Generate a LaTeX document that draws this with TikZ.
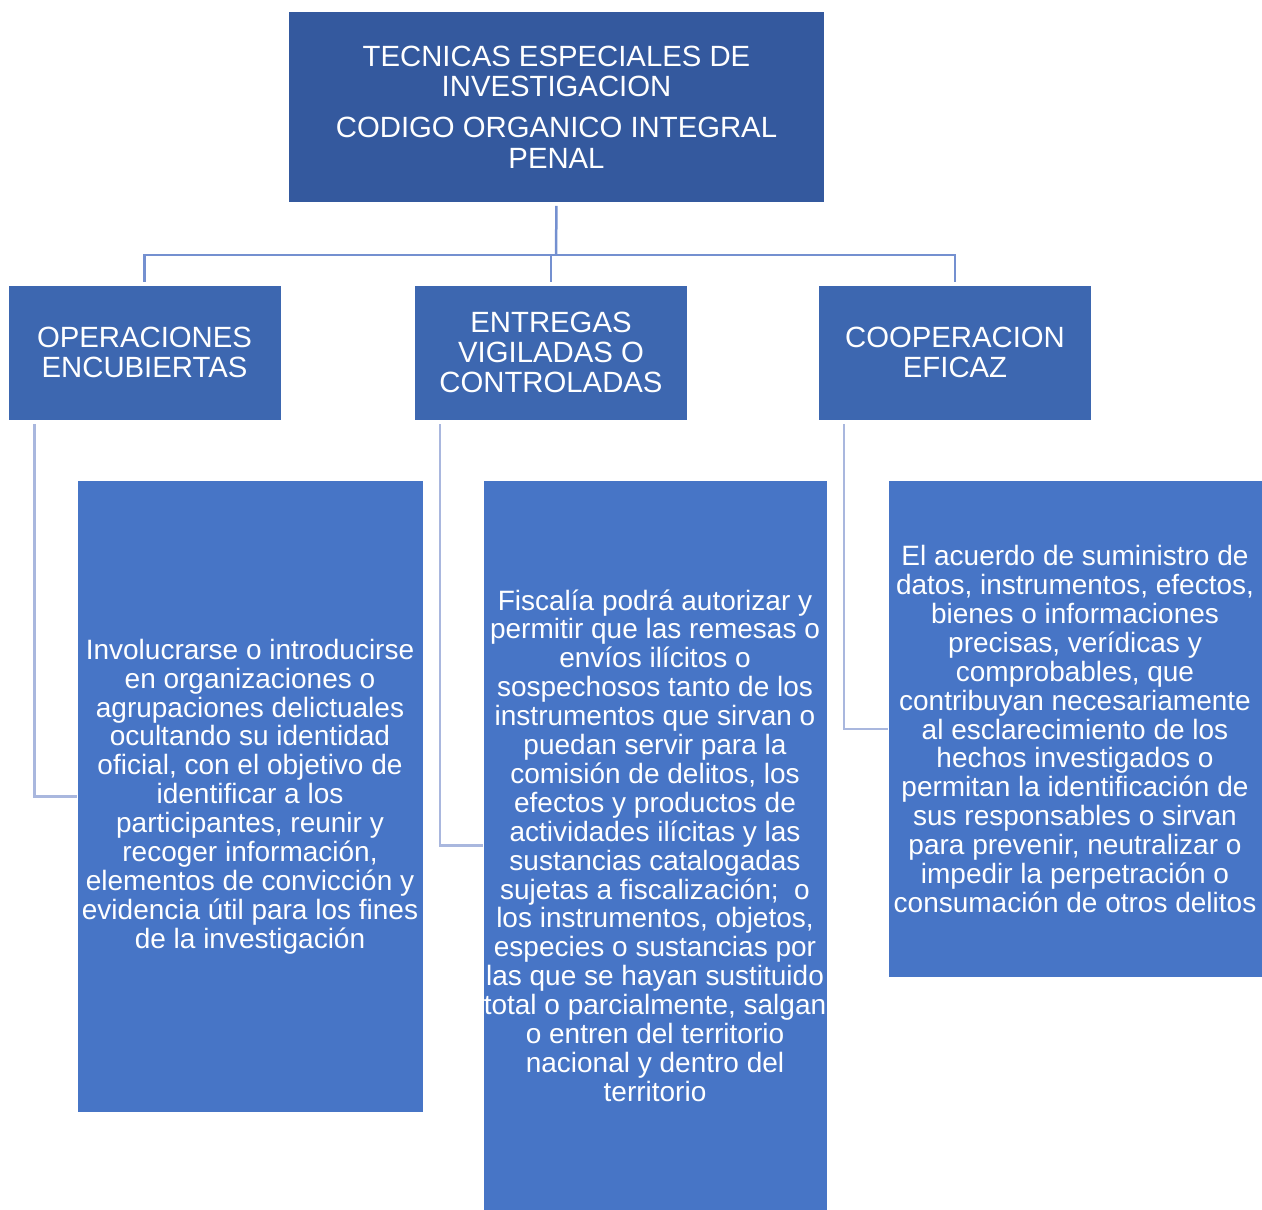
\documentclass[tikz,border=0pt]{standalone}
\usepackage{fontspec}
\setmainfont{Liberation Sans}
\definecolor{topc}{HTML}{34599E}
\definecolor{midc}{HTML}{3D67B0}
\definecolor{lowc}{HTML}{4775C6}
\definecolor{connc}{HTML}{7490D0}
\definecolor{brac}{HTML}{A9B7DE}
\begin{document}
\begin{tikzpicture}[x=1pt,y=-1pt,
  box/.style={rectangle, draw=white, line width=0.6pt, text=white, align=center, inner sep=0pt,
    font=\fontsize{28}{28.9}\selectfont},
  head/.style={box, font=\fontsize{29.3}{30.2}\selectfont},
  conn/.style={draw=connc, line width=2.5pt},
  brack/.style={draw=brac, line width=2.5pt}]
\useasboundingbox (0,0) rectangle (1262,1210);
\node[head, fill=topc, minimum width=536, minimum height=191] (top) at (556.5,107)
  {TECNICAS ESPECIALES DE\\INVESTIGACION\\[11pt]CODIGO ORGANICO INTEGRAL\\PENAL};
\node[head, fill=midc, minimum width=273, minimum height=135] (a) at (144.5,352.5)
  {OPERACIONES\\ENCUBIERTAS};
\node[head, fill=midc, minimum width=273, minimum height=135] (b) at (551,352.5)
  {ENTREGAS\\VIGILADAS O\\CONTROLADAS};
\node[head, fill=midc, minimum width=273, minimum height=135] (c) at (955,352.5)
  {COOPERACION\\EFICAZ};
\node[box, fill=lowc, minimum width=346, minimum height=632] (d) at (250,796.5)
  {Involucrarse o introducirse\\en organizaciones o\\agrupaciones delictuales\\ocultando su identidad\\oficial, con el objetivo de\\identificar a los\\participantes, reunir y\\recoger información,\\elementos de convicción y\\evidencia útil para los fines\\de la investigación};
\node[box, fill=lowc, minimum width=344, minimum height=731] (e) at (655,845.5)
  {Fiscalía podrá autorizar y\\permitir que las remesas o\\envíos ilícitos o\\sospechosos tanto de los\\instrumentos que sirvan o\\puedan servir para la\\comisión de delitos, los\\efectos y productos de\\actividades ilícitas y las\\sustancias catalogadas\\sujetas a fiscalización;\ \ o\\los instrumentos, objetos,\\especies o sustancias por\\las que se hayan sustituido\\total o parcialmente, salgan\\o entren del territorio\\nacional y dentro del\\territorio};
\node[box, fill=lowc, minimum width=374, minimum height=497] (f) at (1075,729)
  {El acuerdo de suministro de\\datos, instrumentos, efectos,\\bienes o informaciones\\precisas, verídicas y\\comprobables, que\\contribuyan necesariamente\\al esclarecimiento de los\\hechos investigados o\\permitan la identificación de\\sus responsables o sirvan\\para prevenir, neutralizar o\\impedir la perpetración o\\consumación de otros delitos};
\coordinate (bus) at (556,255);
\draw[conn, shorten <=3pt] (top.south) -- (bus);
\draw[conn, shorten <=3pt, shorten >=3pt] (a.north) |- (bus) -| (c.north);
\draw[conn, shorten <=3pt] (b.north) -- (b.north |- bus);
\draw[brack, shorten <=4pt] ([xshift=27pt]a.south west) |- (d.west);
\draw[brack, shorten <=4pt] ([xshift=26pt]b.south west) |- (e.west);
\draw[brack, shorten <=4pt] ([xshift=26pt]c.south west) |- (f.west);
\end{tikzpicture}
\end{document}
